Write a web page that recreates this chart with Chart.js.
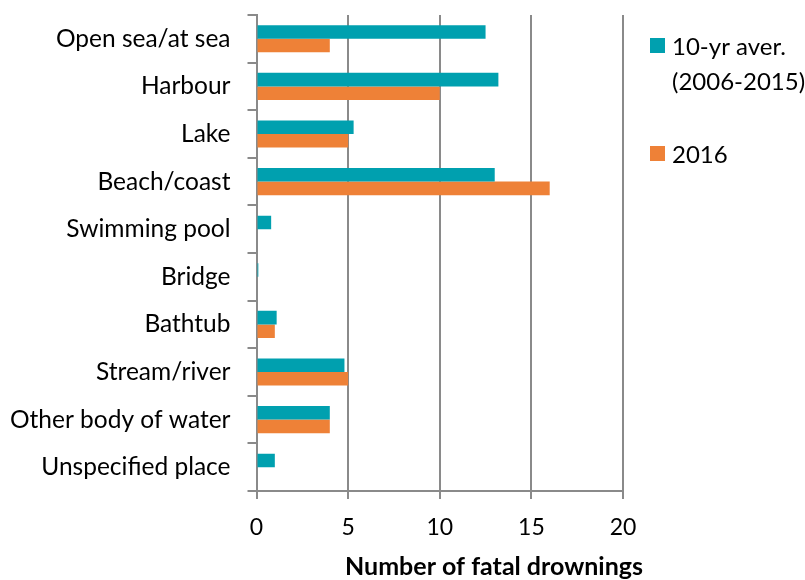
<!DOCTYPE html>
<html><head><meta charset="utf-8">
<script src="https://cdn.jsdelivr.net/npm/chart.js@4/dist/chart.umd.min.js"></script>
<style>html,body{margin:0;padding:0;background:#fff;}#wrap{width:805px;height:580px;}</style>
</head><body><div id="wrap"><canvas id="c" width="805" height="580"></canvas></div>
<script>
const categories = ['Open sea/at sea','Harbour','Lake','Beach/coast','Swimming pool','Bridge','Bathtub','Stream/river','Other body of water','Unspecified place'];
const avg10yr = [12.5, 13.2, 5.3, 13, 0.8, 0.1, 1.1, 4.8, 4, 1];
const year2016 = [4, 10, 5, 16, 0, 0, 1, 5, 4, 0];
const xTicks = [0, 5, 10, 15, 20];
const seriesLabels = [['10-yr aver.', '(2006-2015)'], ['2016']];
const axisTitle = 'Number of fatal drownings';

const TEAL = '#00A0AF', ORANGE = '#EE8137', GRID = '#8A8A8A';
const FONT = 'Lato';

const sideLegend = {
  id: 'sideLegend',
  afterDraw(chart) {
    const ctx = chart.ctx;
    ctx.save();
    ctx.font = '24px ' + FONT;
    ctx.textBaseline = 'middle';
    ctx.textAlign = 'left';
    const tops = [38, 146];
    chart.data.datasets.forEach((ds, i) => {
      const top = tops[i];
      ctx.fillStyle = ds.backgroundColor;
      ctx.fillRect(650, top, 15, 15);
      ctx.fillStyle = '#000';
      seriesLabels[i].forEach((line, j) => ctx.fillText(line, 672, top + 9 + j * 35));
    });
    ctx.restore();
  }
};
const xTitle = {
  id: 'xTitle',
  afterDraw(chart) {
    const ctx = chart.ctx;
    ctx.save();
    ctx.font = 'bold 25px ' + FONT;
    ctx.fillStyle = '#000';
    ctx.textAlign = 'center';
    ctx.textBaseline = 'middle';
    ctx.fillText(axisTitle, 494, 567);
    ctx.restore();
  }
};

new Chart(document.getElementById('c'), {
  type: 'bar',
  data: {
    labels: categories,
    datasets: [
      { label: seriesLabels[0].join(' '), data: avg10yr, backgroundColor: TEAL, borderWidth: 0 },
      { label: seriesLabels[1].join(' '), data: year2016, backgroundColor: ORANGE, borderWidth: 0 }
    ]
  },
  options: {
    indexAxis: 'y',
    responsive: false,
    animation: false,
    devicePixelRatio: 1,
    categoryPercentage: 0.57,
    barPercentage: 1.0,
    layout: { padding: { left: 0, right: 182, top: 15, bottom: 0 } },
    plugins: { legend: { display: false }, tooltip: { enabled: false } },
    scales: {
      x: {
        type: 'linear', min: 0, max: 20,
        afterBuildTicks(scale) { scale.ticks = xTicks.map(v => ({ value: v })); },
        afterFit(scale) { scale.height = 89; scale.paddingLeft = 0; scale.paddingRight = 0; },
        grid: { color: GRID, lineWidth: 2, tickLength: 8, drawTicks: true },
        border: { display: true, color: GRID, width: 2 },
        ticks: { color: '#000', font: { family: FONT, size: 23 }, padding: 15 }
      },
      y: {
        afterFit(scale) { scale.width = 256.5; scale.paddingTop = 0; scale.paddingBottom = 0; },
        grid: { drawOnChartArea: false, drawTicks: true, tickLength: 9, color: GRID, lineWidth: 2, offset: true },
        border: { display: true, color: GRID, width: 2 },
        ticks: { color: '#000', font: { family: FONT, size: 24.5 }, padding: 17, autoSkip: false }
      }
    }
  },
  plugins: [sideLegend, xTitle]
});
</script></body></html>
